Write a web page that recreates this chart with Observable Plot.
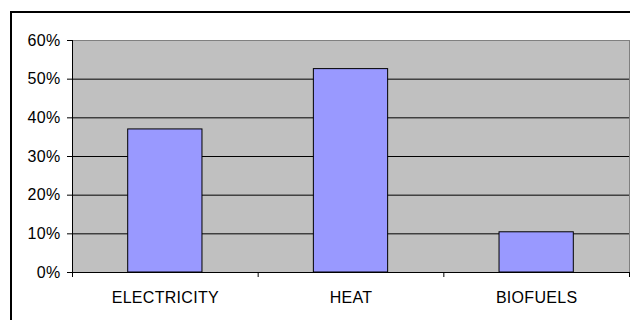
<!DOCTYPE html>
<html>
<head>
<meta charset="utf-8">
<script src="https://cdn.jsdelivr.net/npm/d3@7"></script>
<script src="https://cdn.jsdelivr.net/npm/@observablehq/plot@0.6"></script>
<style>
  html, body { margin: 0; padding: 0; background: #fff; }
  #chart { position: absolute; left: 0; top: 0; width: 630px; height: 320px; }
  #chart svg { display: block; }
  #chart svg text { letter-spacing: 0.3px; }
  #border { position: absolute; left: 10px; top: 11px; width: 700px; height: 400px;
            border-left: 2px solid #000; border-top: 2px solid #000; pointer-events: none; }
</style>
</head>
<body>
<div id="chart"></div>
<div id="border"></div>
<script>
const categories = ["ELECTRICITY", "HEAT", "BIOFUELS"];
const shares = [0.37, 0.526, 0.104];
const yTicks = [0, 0.1, 0.2, 0.3, 0.4, 0.5, 0.6];

const data = categories.map((c, i) => ({category: c, share: shares[i]}));
const pct = d3.format(".0%");

// category boundary tick marks (Excel-style, between categories) + value axis line
function categoryBoundaryTicks(index, scales, values, dimensions) {
  const x = scales.x;
  const step = x(categories[1]) - x(categories[0]);
  const left = dimensions.marginLeft;
  const bounds = d3.range(categories.length + 1).map(i => left + i * step);
  const y0 = dimensions.height - dimensions.marginBottom;
  const g = d3.create("svg:g");
  g.selectAll("line").data(bounds).join("line")
    .attr("x1", d => Math.min(d, dimensions.width - 1) + 0.5)
    .attr("x2", d => Math.min(d, dimensions.width - 1) + 0.5)
    .attr("y1", y0).attr("y2", y0 + 5)
    .attr("stroke", "#000");
  g.append("line")
    .attr("x1", left + 0.5).attr("x2", left + 0.5)
    .attr("y1", dimensions.marginTop).attr("y2", y0)
    .attr("stroke", "#000");
  return g.node();
}

const chart = Plot.plot({
  width: 630,
  height: 320,
  marginTop: 40,
  marginBottom: 48,
  marginLeft: 72,
  marginRight: 1,
  style: {fontFamily: "'Liberation Sans', Arial, sans-serif", fontSize: "16px", background: "transparent", color: "#000"},
  x: {domain: categories, paddingInner: 0.6, paddingOuter: 0.3, round: false, label: null},
  y: {domain: [0, 0.6], label: null},
  marks: [
    Plot.frame({fill: "#C0C0C0", stroke: "#808080"}),
    Plot.ruleY(yTicks.filter(d => d > 0 && d < 0.6), {stroke: "#000"}),
    Plot.barY(data, {x: "category", y: "share", fill: "#9999FF", stroke: "#000", strokeWidth: 1}),
    Plot.ruleY([0], {stroke: "#000"}),
    Plot.axisY({ticks: yTicks, tickFormat: pct, tickSize: 5, tickPadding: 7, fontSize: 16, label: null}),
    Plot.axisX({tickSize: 0, tickPadding: 19, fontSize: 16, label: null}),
    categoryBoundaryTicks
  ]
});
document.getElementById("chart").appendChild(chart);
</script>
</body>
</html>
